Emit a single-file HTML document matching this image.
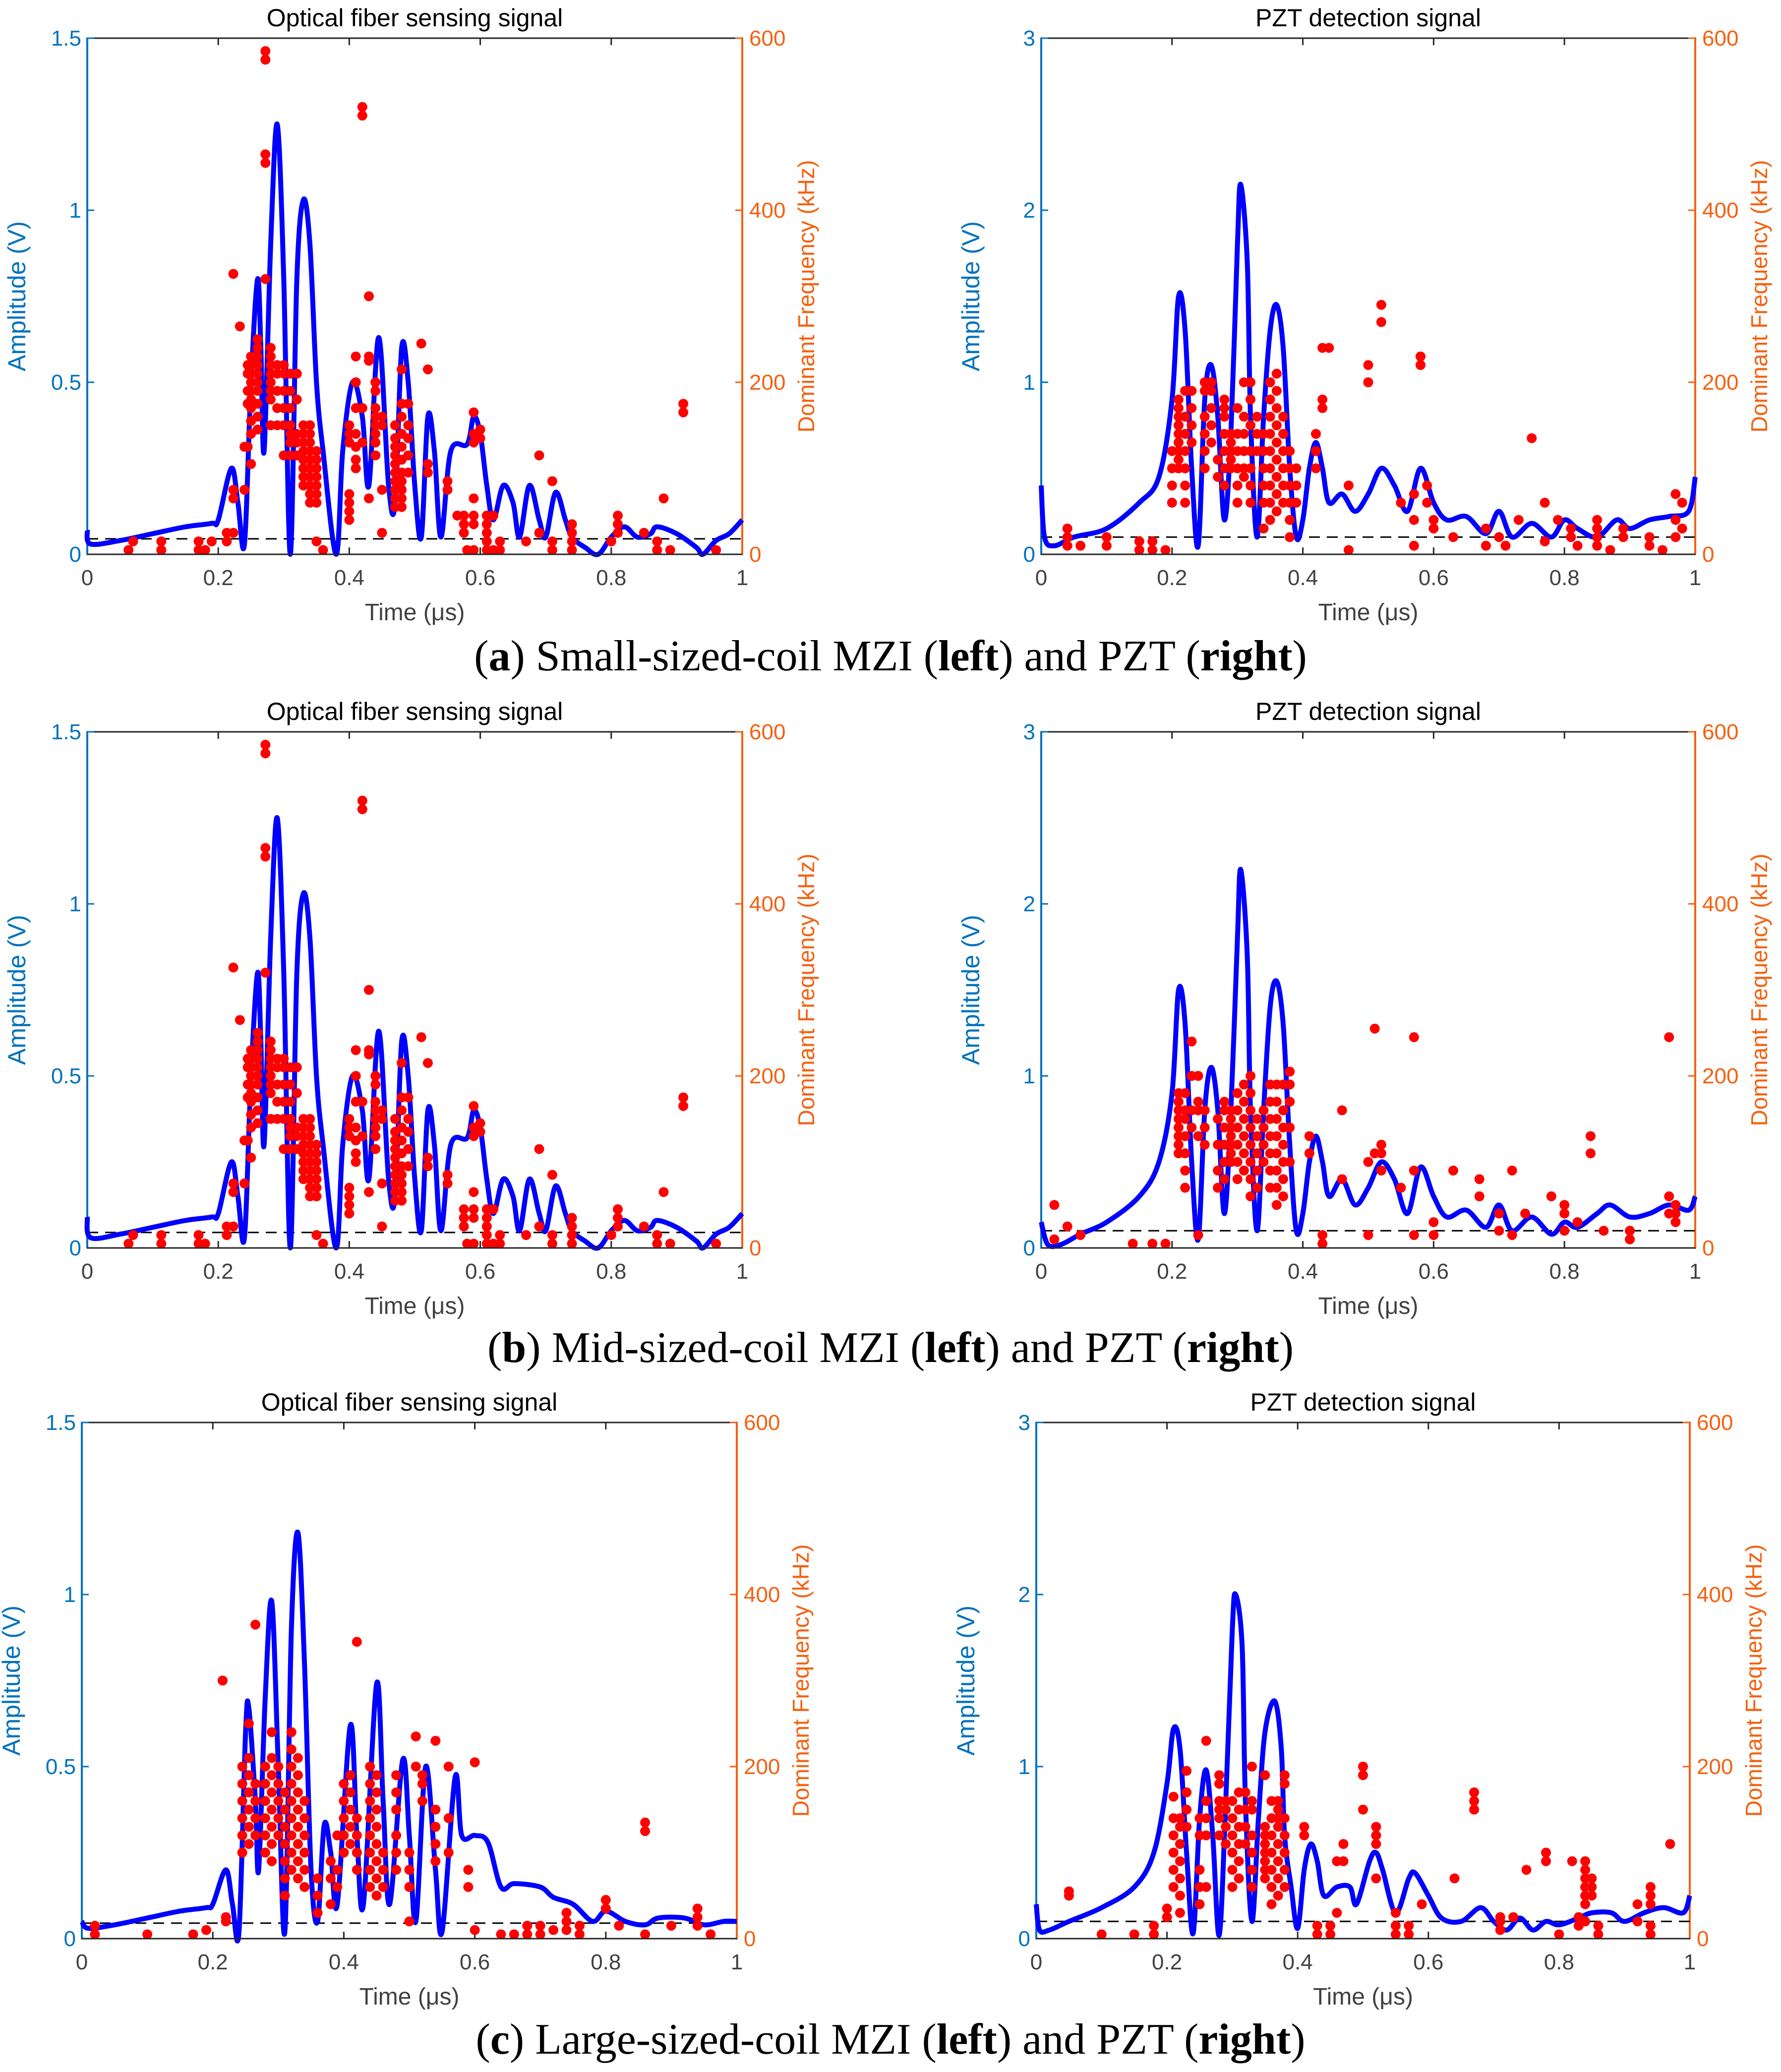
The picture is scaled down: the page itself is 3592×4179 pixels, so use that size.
<!DOCTYPE html>
<html><head><meta charset="utf-8"><style>
html,body{margin:0;padding:0;background:#fff;}
svg{display:block;}
.cap{font-family:"Liberation Serif",serif;font-size:88px;fill:#000;}
</style></head><body>
<svg id="fig" width="3592" height="4179" viewBox="0 0 3592 4179" xmlns="http://www.w3.org/2000/svg">
<text class="cap" x="1796" y="1352" text-anchor="middle">(<tspan font-weight="bold">a</tspan>) Small-sized-coil MZI (<tspan font-weight="bold">left</tspan>) and PZT (<tspan font-weight="bold">right</tspan>)</text>
<text class="cap" x="1796" y="2747" text-anchor="middle">(<tspan font-weight="bold">b</tspan>) Mid-sized-coil MZI (<tspan font-weight="bold">left</tspan>) and PZT (<tspan font-weight="bold">right</tspan>)</text>
<text class="cap" x="1796" y="4142" text-anchor="middle">(<tspan font-weight="bold">c</tspan>) Large-sized-coil MZI (<tspan font-weight="bold">left</tspan>) and PZT (<tspan font-weight="bold">right</tspan>)</text>
</svg>
<script>
// ---- data ----
const timeTicks=[0,0.2,0.4,0.6,0.8,1];
const ampTicksMZI=[0,0.5,1,1.5];
const ampTicksPZT=[0,1,2,3];
const freqTicks=[0,200,400,600];

const aLeftLine=[[0,0.07],[0.005,0.03],[0.05,0.04],[0.1,0.06],[0.15,0.08],[0.19,0.09],[0.2,0.1],[0.22,0.25],[0.23,0.15],[0.24,0.03],[0.25,0.5],[0.26,0.8],[0.265,0.6],[0.27,0.3],[0.28,0.9],[0.29,1.25],[0.3,0.8],[0.31,0.0],[0.32,0.8],[0.33,1.03],[0.34,0.9],[0.35,0.5],[0.36,0.3],[0.38,0.0],[0.39,0.3],[0.405,0.5],[0.42,0.4],[0.43,0.2],[0.445,0.63],[0.46,0.2],[0.47,0.15],[0.48,0.6],[0.49,0.5],[0.5,0.2],[0.51,0.05],[0.52,0.4],[0.53,0.3],[0.54,0.05],[0.555,0.3],[0.58,0.32],[0.59,0.4],[0.6,0.35],[0.61,0.2],[0.62,0.1],[0.635,0.2],[0.65,0.15],[0.66,0.05],[0.675,0.2],[0.69,0.1],[0.7,0.05],[0.715,0.18],[0.73,0.1],[0.74,0.05],[0.76,0.02],[0.78,0.0],[0.8,0.05],[0.82,0.08],[0.84,0.05],[0.86,0.06],[0.87,0.08],[0.9,0.06],[0.93,0.02],[0.94,0.0],[0.96,0.04],[0.98,0.06],[1,0.1]];
const aLeftDots=[[0.063,[5]],[0.07,[15]],[0.113,[5,15]],[0.17,[5,15]],[0.18,[5]],[0.19,[15]],[0.213,[15,25]],[0.223,[25,65,75,326]],[0.233,[265]],[0.24,[75,125]],[0.245,[125,175,190,210,220]],[0.25,[105,140,155,170,180,190,200,210,220,230]],[0.26,[145,160,175,190,200,210,220,230,240,250]],[0.272,[320,455,465,575,585]],[0.28,[150,180,190,200,210,220,230,240]],[0.29,[150,170,190,210,220]],[0.3,[115,150,170,190,210,220]],[0.31,[115,130,140,150,170,190,210]],[0.32,[115,130,140,180,210]],[0.33,[80,90,100,110,120,130,140,150]],[0.34,[60,70,80,90,100,110,120,130,140,150]],[0.35,[15,60,70,80,90,100,110,120]],[0.36,[5]],[0.4,[40,50,60,70,130,140,150]],[0.41,[100,110,125,140,170,200,230]],[0.42,[130,170,510,520]],[0.43,[65,225,230,300]],[0.44,[115,130,140,150,160,170,190,200]],[0.45,[25,75,150,160]],[0.47,[55,65,75,85,95,105,115,125,135,150]],[0.48,[55,65,75,85,95,110,125,140,160,175,215]],[0.49,[95,115,135,150,175]],[0.51,[245]],[0.52,[95,105,215]],[0.55,[75,85]],[0.565,[45]],[0.575,[25,35,45]],[0.58,[5]],[0.59,[5,35,45,65,130,140,165]],[0.6,[135,145]],[0.61,[5,15,25,35,45]],[0.62,[5,45]],[0.63,[5,15]],[0.67,[15]],[0.69,[25,115]],[0.71,[5,15,85]],[0.74,[5,15,25,35]],[0.8,[15]],[0.81,[25,35,45]],[0.85,[25]],[0.87,[5,15]],[0.88,[65]],[0.89,[5]],[0.91,[165,175]],[0.96,[5]]];

const aRightLine=[[0,0.4],[0.005,0.1],[0.02,0.05],[0.05,0.1],[0.1,0.15],[0.15,0.3],[0.18,0.45],[0.2,0.9],[0.21,1.5],[0.22,1.3],[0.23,0.5],[0.24,0.05],[0.25,0.9],[0.26,1.1],[0.27,0.8],[0.28,0.2],[0.29,0.7],[0.3,1.8],[0.305,2.15],[0.315,1.7],[0.32,0.8],[0.33,0.1],[0.34,0.8],[0.35,1.3],[0.36,1.45],[0.37,1.2],[0.38,0.5],[0.39,0.1],[0.4,0.2],[0.41,0.5],[0.42,0.65],[0.43,0.5],[0.44,0.3],[0.46,0.35],[0.48,0.25],[0.5,0.35],[0.52,0.5],[0.54,0.4],[0.56,0.25],[0.58,0.5],[0.6,0.3],[0.62,0.2],[0.65,0.22],[0.68,0.12],[0.7,0.25],[0.72,0.1],[0.75,0.18],[0.78,0.1],[0.8,0.2],[0.82,0.15],[0.85,0.1],[0.88,0.2],[0.9,0.15],[0.93,0.2],[0.96,0.22],[0.99,0.25],[1,0.45]];
const aRightDots=[[0.04,[10,20,30]],[0.06,[10]],[0.1,[10,20]],[0.15,[5,15]],[0.17,[5,15]],[0.19,[5]],[0.2,[60,80,100,120]],[0.21,[100,110,120,130,140,150,160,170,180]],[0.22,[60,80,100,120,140,160,190]],[0.23,[130,150,170,190]],[0.25,[100,120,140,160,190,200]],[0.26,[130,150,170,190,200]],[0.27,[90,110]],[0.28,[80,100,120,140,160,170,180]],[0.29,[100,110,120,130,140]],[0.3,[60,80,100,120,140,170]],[0.31,[90,100,120,140,160,200]],[0.32,[60,80,100,120,150,180,200]],[0.33,[120,140,160]],[0.34,[30,60,80,100,120,140]],[0.35,[40,60,80,100,120,140,160,180,200]],[0.36,[50,70,90,110,130,150,170,190,210]],[0.37,[60,80,100,120,140,160]],[0.38,[20,40,60,80,100,120]],[0.39,[60,80,100]],[0.42,[100,120,140]],[0.43,[170,180,240]],[0.44,[240]],[0.47,[5,80]],[0.5,[200,220]],[0.52,[270,290]],[0.55,[60]],[0.57,[10,40,70]],[0.58,[220,230]],[0.59,[60,80]],[0.6,[30,40]],[0.63,[20]],[0.68,[10,30]],[0.7,[20]],[0.71,[10]],[0.73,[40]],[0.75,[135]],[0.77,[15,60]],[0.79,[40]],[0.81,[20,30]],[0.82,[10]],[0.85,[10,20,30,40]],[0.87,[5]],[0.89,[20,30]],[0.93,[10,20]],[0.95,[5]],[0.97,[20,40,70]],[0.98,[30,60]]];

const bLeftLine=[[0,0.09],[0.005,0.03],[0.05,0.04],[0.1,0.06],[0.15,0.08],[0.19,0.09],[0.2,0.1],[0.22,0.25],[0.23,0.15],[0.24,0.03],[0.25,0.5],[0.26,0.8],[0.265,0.6],[0.27,0.3],[0.28,0.9],[0.29,1.25],[0.3,0.8],[0.31,0.0],[0.32,0.8],[0.33,1.03],[0.34,0.9],[0.35,0.5],[0.36,0.3],[0.38,0.0],[0.39,0.3],[0.405,0.5],[0.42,0.4],[0.43,0.2],[0.445,0.63],[0.46,0.2],[0.47,0.15],[0.48,0.6],[0.49,0.5],[0.5,0.2],[0.51,0.05],[0.52,0.4],[0.53,0.3],[0.54,0.05],[0.555,0.3],[0.58,0.32],[0.59,0.4],[0.6,0.35],[0.61,0.2],[0.62,0.1],[0.635,0.2],[0.65,0.15],[0.66,0.05],[0.675,0.2],[0.69,0.1],[0.7,0.05],[0.715,0.18],[0.73,0.1],[0.74,0.05],[0.76,0.02],[0.78,0.0],[0.8,0.05],[0.82,0.08],[0.84,0.05],[0.86,0.06],[0.87,0.08],[0.9,0.06],[0.93,0.02],[0.94,0.0],[0.96,0.04],[0.98,0.06],[1,0.1]];
const bLeftDots=[[0.063,[5]],[0.07,[15]],[0.113,[5,15]],[0.17,[5,15]],[0.18,[5]],[0.213,[15,25]],[0.223,[25,65,75,326]],[0.233,[265]],[0.24,[75,125]],[0.245,[125,175,190,210,220]],[0.25,[105,140,155,170,180,190,200,210,220,230]],[0.26,[145,160,175,190,200,210,220,230,240,250]],[0.272,[320,455,465,575,585]],[0.28,[150,180,190,200,210,220,230,240]],[0.29,[150,170,190,210,220]],[0.3,[115,150,170,190,210,220]],[0.31,[115,130,140,150,170,190,210]],[0.32,[115,130,140,180,210]],[0.33,[80,90,100,110,120,130,140,150]],[0.34,[60,70,80,90,100,110,120,130,140,150]],[0.35,[15,60,70,80,90,100,110,120]],[0.36,[5]],[0.4,[40,50,60,70,130,140,150]],[0.41,[100,110,125,140,170,200,230]],[0.42,[130,170,510,520]],[0.43,[65,225,230,300]],[0.44,[115,130,140,150,160,170,190,200]],[0.45,[25,75,150,160]],[0.47,[55,65,75,85,95,105,115,125,135,150]],[0.48,[55,65,75,85,95,110,125,140,160,175,215]],[0.49,[95,115,135,150,175]],[0.51,[245]],[0.52,[95,105,215]],[0.55,[75,85]],[0.575,[25,35,45]],[0.58,[5]],[0.59,[5,35,45,65,130,140,165]],[0.6,[135,145]],[0.61,[5,15,25,35,45]],[0.62,[5,45]],[0.63,[5,15]],[0.67,[15]],[0.69,[25,115]],[0.71,[5,15,85]],[0.74,[5,15,25,35]],[0.8,[15]],[0.81,[25,35,45]],[0.85,[25]],[0.87,[5,15]],[0.88,[65]],[0.89,[5]],[0.91,[165,175]],[0.96,[5]]];

const bRightLine=[[0,0.15],[0.01,0.02],[0.03,0.02],[0.06,0.08],[0.1,0.15],[0.15,0.3],[0.18,0.5],[0.2,0.9],[0.21,1.5],[0.22,1.3],[0.23,0.5],[0.24,0.05],[0.25,0.8],[0.26,1.05],[0.27,0.8],[0.28,0.2],[0.29,0.8],[0.3,1.8],[0.305,2.2],[0.315,1.7],[0.32,0.8],[0.33,0.1],[0.34,0.8],[0.35,1.4],[0.36,1.55],[0.37,1.3],[0.38,0.6],[0.39,0.1],[0.4,0.2],[0.41,0.5],[0.42,0.65],[0.43,0.5],[0.44,0.3],[0.46,0.4],[0.48,0.25],[0.5,0.35],[0.52,0.5],[0.54,0.4],[0.56,0.2],[0.58,0.47],[0.6,0.3],[0.62,0.18],[0.65,0.22],[0.68,0.12],[0.7,0.25],[0.72,0.1],[0.75,0.18],[0.78,0.08],[0.8,0.15],[0.82,0.12],[0.85,0.2],[0.87,0.25],[0.9,0.18],[0.93,0.2],[0.96,0.25],[0.99,0.22],[1,0.3]];
const bRightDots=[[0.02,[10,50]],[0.04,[25]],[0.06,[15]],[0.14,[5]],[0.17,[5]],[0.19,[5]],[0.21,[110,120,130,140,150,160,170,180]],[0.22,[70,90,110,130,150,160,180]],[0.23,[140,160,200,240]],[0.24,[15,130,160,170,200]],[0.25,[120,140,160]],[0.27,[70,90,120,150]],[0.28,[80,100,120,140,160,170]],[0.29,[100,110,120,130,140,150,160]],[0.3,[80,100,120,140,160,180]],[0.31,[90,110,130,150,170,190]],[0.32,[60,80,100,120,140,160,180,200]],[0.33,[70,90,110,130,150]],[0.34,[100,120,140,160]],[0.35,[70,90,110,130,150,170,190]],[0.36,[50,70,90,110,130,150,170,190]],[0.37,[60,80,100,120,140,160,190]],[0.38,[100,140,170,190,205]],[0.41,[110,130]],[0.43,[5,15]],[0.46,[80,160]],[0.5,[15,100]],[0.51,[110,255]],[0.52,[90,110,120]],[0.55,[70]],[0.57,[15,90,245]],[0.6,[15,30]],[0.63,[90]],[0.67,[60,80]],[0.7,[20,40]],[0.72,[15,90]],[0.74,[40]],[0.78,[60]],[0.8,[20,40,50]],[0.82,[30]],[0.84,[110,130]],[0.86,[20]],[0.9,[10,20]],[0.96,[40,60,245]],[0.97,[30,40,50]]];

const cLeftLine=[[0,0.05],[0.01,0.03],[0.05,0.04],[0.1,0.06],[0.15,0.08],[0.19,0.09],[0.2,0.1],[0.22,0.2],[0.23,0.1],[0.24,0.02],[0.25,0.6],[0.255,0.67],[0.265,0.4],[0.27,0.2],[0.28,0.7],[0.29,0.98],[0.3,0.5],[0.31,0.02],[0.32,0.9],[0.33,1.18],[0.34,0.8],[0.35,0.2],[0.36,0.05],[0.37,0.33],[0.38,0.25],[0.39,0.1],[0.41,0.62],[0.42,0.3],[0.43,0.1],[0.45,0.74],[0.46,0.4],[0.47,0.1],[0.49,0.52],[0.5,0.3],[0.51,0.05],[0.525,0.5],[0.54,0.2],[0.55,0.02],[0.57,0.47],[0.58,0.3],[0.6,0.3],[0.62,0.28],[0.64,0.15],[0.66,0.16],[0.7,0.15],[0.72,0.12],[0.75,0.1],[0.78,0.05],[0.8,0.08],[0.83,0.05],[0.86,0.04],[0.88,0.06],[0.92,0.06],[0.95,0.04],[0.98,0.05],[1,0.05]];
const cLeftDots=[[0.02,[5,15]],[0.1,[5]],[0.17,[5]],[0.19,[10]],[0.215,[300]],[0.22,[20,25]],[0.245,[100,120,140,160,180,200]],[0.255,[110,130,150,170,190,210,250]],[0.265,[120,140,160,180,365]],[0.28,[100,120,140,160,180,200]],[0.29,[90,110,130,150,170,190,210,240]],[0.3,[120,140,160,180,200]],[0.31,[50,70,90,110,130,150,170]],[0.32,[80,100,120,140,160,180,200,220,240]],[0.33,[70,90,110,130,150,170,190,210]],[0.34,[60,80,100,120,140,160]],[0.36,[30,50,70]],[0.38,[40,70,90]],[0.39,[60,80,120]],[0.4,[100,120,140,160,180]],[0.41,[110,130,150,170,190]],[0.42,[80,100,120,140,345]],[0.44,[60,80,100,120,140,160,180,200]],[0.45,[50,70,90,110,130,150,170,190]],[0.46,[60,80,100]],[0.48,[80,100,120,150,170,190]],[0.5,[20,60,80,100]],[0.51,[200,235]],[0.52,[160,180,190]],[0.54,[90,110,130,150,230]],[0.56,[100,140,200]],[0.59,[60,80]],[0.6,[10,205]],[0.64,[5]],[0.66,[5]],[0.68,[5,15]],[0.7,[5,15]],[0.72,[10]],[0.74,[10,20,30]],[0.76,[5,15]],[0.8,[35,45]],[0.82,[15]],[0.86,[5,125,135]],[0.9,[15]],[0.94,[15,25,35]],[0.96,[5]]];

const cRightLine=[[0,0.2],[0.005,0.05],[0.02,0.05],[0.05,0.1],[0.1,0.18],[0.15,0.3],[0.18,0.5],[0.2,0.9],[0.21,1.22],[0.22,1.1],[0.23,0.5],[0.24,0.03],[0.25,0.7],[0.26,0.98],[0.27,0.6],[0.28,0.02],[0.29,0.8],[0.3,1.8],[0.305,2.0],[0.315,1.7],[0.32,0.8],[0.33,0.1],[0.34,0.7],[0.35,1.2],[0.365,1.38],[0.375,1.1],[0.38,0.6],[0.39,0.3],[0.4,0.06],[0.41,0.4],[0.42,0.55],[0.43,0.45],[0.44,0.25],[0.46,0.3],[0.48,0.3],[0.49,0.2],[0.51,0.45],[0.52,0.5],[0.53,0.4],[0.55,0.15],[0.57,0.35],[0.58,0.38],[0.6,0.25],[0.62,0.12],[0.65,0.1],[0.68,0.18],[0.7,0.1],[0.72,0.05],[0.74,0.12],[0.76,0.05],[0.78,0.1],[0.8,0.08],[0.83,0.12],[0.85,0.15],[0.88,0.15],[0.9,0.1],[0.93,0.15],[0.96,0.18],[0.99,0.15],[1,0.25]];
const cRightDots=[[0.05,[50,55]],[0.1,[5]],[0.15,[5]],[0.18,[5,15]],[0.2,[25,35]],[0.21,[60,80,100,120,140,165]],[0.22,[30,50,70,90,110,130,140]],[0.23,[130,150,170,195]],[0.25,[40,60,80,120,140]],[0.26,[60,120,140,160,230]],[0.28,[120,140,150,160,180,190]],[0.29,[110,130,150,160]],[0.3,[60,80,100,120,140,160]],[0.31,[70,90,110,130,150,170]],[0.32,[110,130,150,170]],[0.33,[60,80,100,120,150,160,200]],[0.35,[70,80,90,100,110,120,130,190]],[0.36,[40,60,80,100,120,140,160]],[0.37,[50,70,90,110,130,140,150,160]],[0.38,[60,80,100,120,140,180,190]],[0.41,[120,130]],[0.43,[5,15]],[0.45,[5,15]],[0.46,[30,90]],[0.47,[90,110]],[0.5,[150,190,200]],[0.52,[70,110,120,130]],[0.55,[5,15,30]],[0.57,[5,15]],[0.59,[40]],[0.64,[70]],[0.67,[150,160,170]],[0.71,[10,20,25]],[0.73,[25]],[0.75,[80]],[0.78,[90,100]],[0.8,[5]],[0.82,[90]],[0.83,[15,25]],[0.84,[20,40,50,60,70,80,90]],[0.85,[50,60,70]],[0.86,[5,15]],[0.92,[20,40]],[0.94,[5,15,40,50,60]],[0.97,[110]]];

// ---- layout (pixel geometry only) ----
const panels=[
 {id:'a-left',title:'Optical fiber sensing signal',x0:176,x1:1497,y0:77,y1:1118,amax:1.5,aT:ampTicksMZI,line:aLeftLine,dots:aLeftDots,thr:0.045},
 {id:'a-right',title:'PZT detection signal',x0:2100,x1:3419,y0:77,y1:1118,amax:3,aT:ampTicksPZT,line:aRightLine,dots:aRightDots,thr:0.1},
 {id:'b-left',title:'Optical fiber sensing signal',x0:176,x1:1497,y0:1476,y1:2517,amax:1.5,aT:ampTicksMZI,line:bLeftLine,dots:bLeftDots,thr:0.045},
 {id:'b-right',title:'PZT detection signal',x0:2100,x1:3419,y0:1476,y1:2517,amax:3,aT:ampTicksPZT,line:bRightLine,dots:bRightDots,thr:0.1},
 {id:'c-left',title:'Optical fiber sensing signal',x0:165,x1:1486,y0:2869,y1:3910,amax:1.5,aT:ampTicksMZI,line:cLeftLine,dots:cLeftDots,thr:0.045},
 {id:'c-right',title:'PZT detection signal',x0:2090,x1:3408,y0:2869,y1:3910,amax:3,aT:ampTicksPZT,line:cRightLine,dots:cRightDots,thr:0.1}
];
const NS='http://www.w3.org/2000/svg';
const svg=document.getElementById('fig');
const BLUE='#0072BD',ORANGE='#F5600F',FONT='"Liberation Sans", sans-serif';
function mk(tag,attrs,parent){const e=document.createElementNS(NS,tag);for(const k in attrs)e.setAttribute(k,attrs[k]);(parent||svg).appendChild(e);return e;}
function txt(s,attrs,parent){const e=mk('text',attrs,parent);e.textContent=s;return e;}
function smooth(pts){
  let d='M'+pts[0][0].toFixed(1)+' '+pts[0][1].toFixed(1);
  for(let i=0;i<pts.length-1;i++){
    const p0=pts[Math.max(0,i-1)],p1=pts[i],p2=pts[i+1],p3=pts[Math.min(pts.length-1,i+2)];
    const c1x=p1[0]+(p2[0]-p0[0])/6,c1y=p1[1]+(p2[1]-p0[1])/6;
    const c2x=p2[0]-(p3[0]-p1[0])/6,c2y=p2[1]-(p3[1]-p1[1])/6;
    d+=' C'+c1x.toFixed(1)+' '+c1y.toFixed(1)+' '+c2x.toFixed(1)+' '+c2y.toFixed(1)+' '+p2[0].toFixed(1)+' '+p2[1].toFixed(1);
  }
  return d;
}

panels.forEach(p=>{
  const g=mk('g',{});
  
  
  const xs=t=>p.x0+t*(p.x1-p.x0);
  const ya=v=>p.y1-v/p.amax*(p.y1-p.y0);
  const yf=f=>p.y1-f/600*(p.y1-p.y0);
  const fr=mk('rect',{x:p.x0,y:p.y0,width:p.x1-p.x0,height:p.y1-p.y0,fill:'#fff',stroke:'#262626','stroke-width':3},g);
  
  
  timeTicks.forEach(t=>{
    mk('line',{x1:xs(t),x2:xs(t),y1:p.y1,y2:p.y1-14,stroke:'#262626','stroke-width':3},g);
    mk('line',{x1:xs(t),x2:xs(t),y1:p.y0,y2:p.y0+14,stroke:'#262626','stroke-width':3},g);
    const l=txt(String(t),{x:xs(t),y:p.y1+62,'font-family':FONT,'font-size':44,fill:'#404040','text-anchor':'middle'},g);
    
    
  });
  mk('line',{x1:p.x0,x2:p.x0,y1:p.y0,y2:p.y1,stroke:BLUE,'stroke-width':4},g);
  p.aT.forEach(v=>{
    mk('line',{x1:p.x0,x2:p.x0+14,y1:ya(v),y2:ya(v),stroke:BLUE,'stroke-width':3},g);
    const l=txt(String(v),{x:p.x0-12,y:ya(v)+15,'font-family':FONT,'font-size':44,fill:BLUE,'text-anchor':'end'},g);
    
    
  });
  mk('line',{x1:p.x1,x2:p.x1,y1:p.y0,y2:p.y1,stroke:ORANGE,'stroke-width':4},g);
  freqTicks.forEach(f=>{
    mk('line',{x1:p.x1,x2:p.x1-14,y1:yf(f),y2:yf(f),stroke:ORANGE,'stroke-width':3},g);
    const l=txt(String(f),{x:p.x1+14,y:yf(f)+15,'font-family':FONT,'font-size':44,fill:ORANGE},g);
    
    
  });
  const cy=(p.y0+p.y1)/2;
  const la=txt('Amplitude (V)',{x:0,y:0,'font-family':FONT,'font-size':50,fill:BLUE,'text-anchor':'middle',transform:`translate(${p.x0-125},${cy}) rotate(-90)`},g);
  
  
  const lr=txt('Dominant Frequency (kHz)',{x:0,y:0,'font-family':FONT,'font-size':46,fill:ORANGE,'text-anchor':'middle',transform:`translate(${p.x1+145},${cy}) rotate(-90)`},g);
  
  
  const lx=txt('Time (\u03bcs)',{x:(p.x0+p.x1)/2,y:p.y1+133,'font-family':FONT,'font-size':48,fill:'#404040','text-anchor':'middle'},g);
  
  
  const tt=txt(p.title,{x:(p.x0+p.x1)/2,y:p.y0-24,'font-family':FONT,'font-size':50,fill:'#000','text-anchor':'middle'},g);
  
  
  const th=mk('line',{x1:p.x0,x2:p.x1,y1:ya(p.thr),y2:ya(p.thr),stroke:'#000','stroke-width':3,'stroke-dasharray':'22 14'},g);
  
  
  const pts=p.line.map(q=>[xs(q[0]),ya(q[1])]);
  const pl=mk('path',{d:smooth(pts),fill:'none',stroke:'#0000FF','stroke-width':10,'stroke-linejoin':'round'},g);
  
  
  p.dots.forEach(col=>col[1].forEach(f=>{
    const c=mk('circle',{cx:xs(col[0]),cy:yf(f),r:10,fill:'#FF0000'},g);
    
    
  }));
  mk('line',{x1:p.x0,x2:p.x1,y1:p.y1,y2:p.y1,stroke:'#262626','stroke-width':3},g);
});
</script>
</body></html>
